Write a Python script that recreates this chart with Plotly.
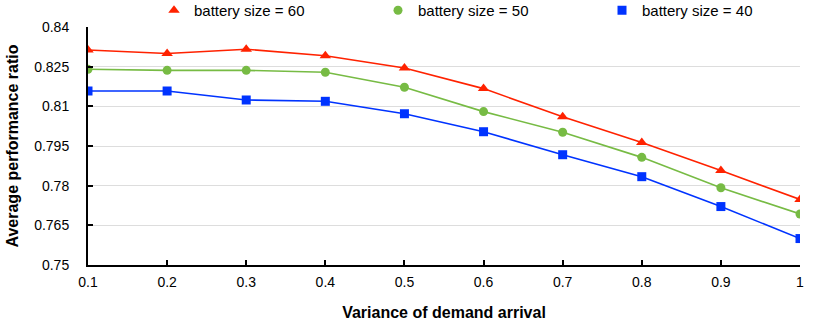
import plotly.graph_objects as go

# Data
variance = [0.1, 0.2, 0.3, 0.4, 0.5, 0.6, 0.7, 0.8, 0.9, 1.0]
size_60 = [0.8313, 0.8300, 0.8316, 0.8291, 0.8245, 0.8167, 0.8061, 0.7963, 0.7857, 0.7748]
size_50 = [0.8240, 0.8236, 0.8236, 0.8229, 0.8172, 0.8080, 0.8002, 0.7907, 0.7792, 0.7693]
size_40 = [0.8158, 0.8158, 0.8124, 0.8119, 0.8072, 0.8004, 0.7917, 0.7834, 0.7721, 0.7600]

y_ticks = [0.75, 0.765, 0.78, 0.795, 0.81, 0.825, 0.84]
y_labels = ['0.75', '0.765', '0.78', '0.795', '0.81', '0.825', '0.84']

series = [
    ('battery size = 60', size_60, '#ff2200', 'triangle-up', 10),
    ('battery size = 50', size_50, '#77bb44', 'circle', 9),
    ('battery size = 40', size_40, '#0033ff', 'square', 9),
]

fig = go.Figure()

for name, vals, color, symbol, msize in series:
    fig.add_trace(go.Scatter(
        x=variance, y=vals, mode='lines+markers', name=name,
        line=dict(color=color, width=1.6),
        marker=dict(color=color, symbol=symbol, size=msize),
        showlegend=False,
    ))

# legend entries: marker only
for name, vals, color, symbol, msize in series:
    fig.add_trace(go.Scatter(
        x=[None], y=[None], mode='markers', name=name,
        marker=dict(color=color, symbol=symbol, size=msize),
    ))

fig.update_layout(
    width=813, height=321,
    margin=dict(l=88, r=13, t=27, b=56, autoexpand=False),
    plot_bgcolor='white', paper_bgcolor='white',
    font=dict(family='Liberation Sans, Arial, sans-serif', size=14, color='black'),
    legend=dict(
        orientation='h', x=0.0927, y=1.0, xanchor='left', yanchor='bottom',
        entrywidth=179, entrywidthmode='pixels', itemwidth=30,
        font=dict(size=15), bgcolor='rgba(0,0,0,0)',
    ),
)

fig.update_xaxes(
    range=[0.1, 1.0], tickvals=variance,
    ticktext=['0.1', '0.2', '0.3', '0.4', '0.5', '0.6', '0.7', '0.8', '0.9', '1'],
    showline=True, linecolor='black', linewidth=2,
    ticks='inside', ticklen=5, tickcolor='black', tickwidth=1.5,
    ticklabelstandoff=3, automargin=False,
    showgrid=False, zeroline=False,
    title=dict(text='<b>Variance of demand arrival</b>', font=dict(size=16), standoff=19),
)
fig.update_yaxes(
    range=[0.75, 0.84], tickvals=y_ticks, ticktext=y_labels,
    showline=True, linecolor='black', linewidth=2,
    ticks='inside', ticklen=5, tickcolor='black', tickwidth=1.5,
    ticklabelstandoff=14, automargin=False,
    showgrid=True, gridcolor='#dddddd', gridwidth=1, zeroline=False,
    title=dict(text='<b>Average performance ratio</b>', font=dict(size=16), standoff=12),
)

# drop the default page margin so the figure sits at the window's corner
fig.write_html('out.html', config={'displayModeBar': False},
               post_script="document.body.style.margin='0';")
